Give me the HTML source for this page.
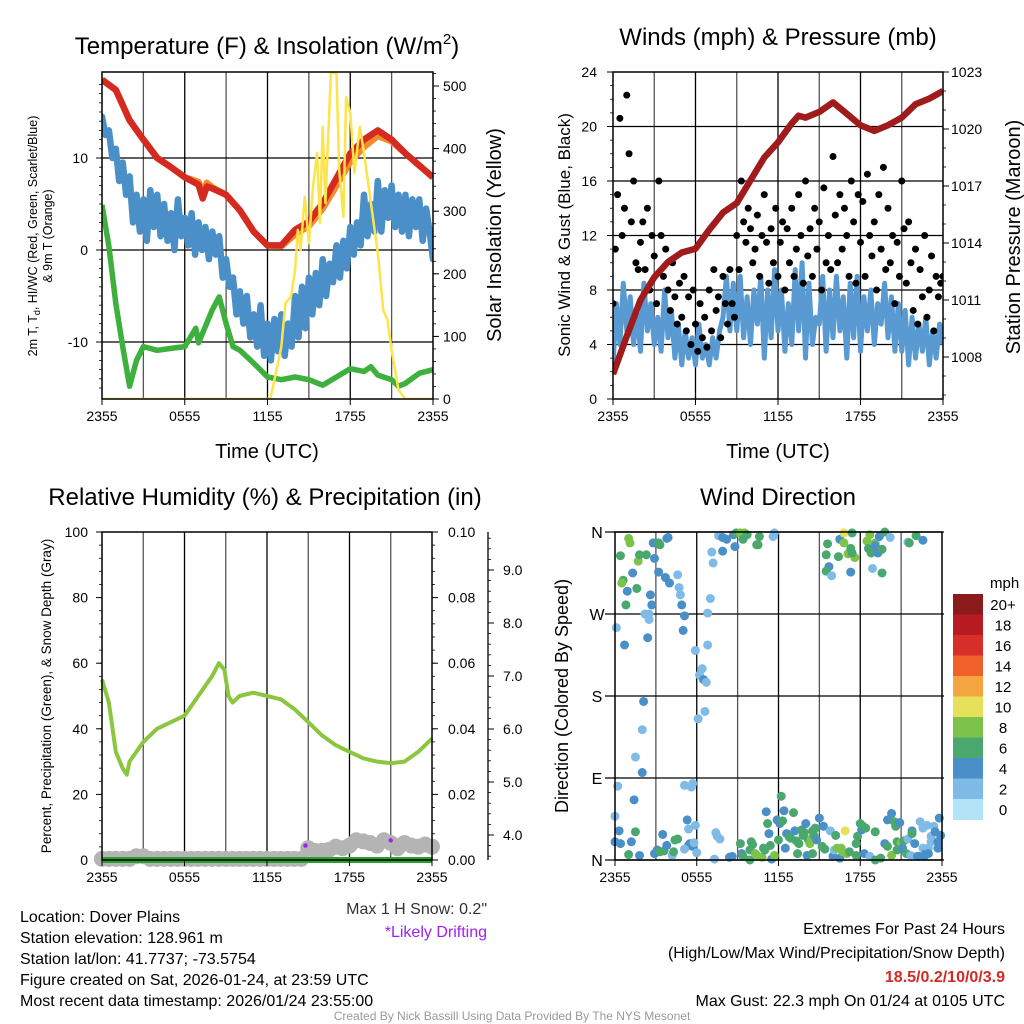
<!DOCTYPE html>
<html><head><meta charset="utf-8">
<style>
html,body{margin:0;padding:0;background:#fff;}
svg{display:block;font-family:"Liberation Sans",Arial,sans-serif;}
</style></head>
<body>
<svg id="chart" width="1024" height="1024" viewBox="0 0 1024 1024" xmlns="http://www.w3.org/2000/svg">
<rect width="1024" height="1024" fill="#fff"/>
<g id="p1"></g>
<g id="p2"></g>
<g id="p3"></g>
<g id="p4"></g>

<text x="267" y="54" font-size="24" text-anchor="middle">Temperature (F) &amp; Insolation (W/m<tspan font-size="15" dy="-10">2</tspan><tspan dy="10">)</tspan></text>
<text x="778" y="45" font-size="24" text-anchor="middle">Winds (mph) &amp; Pressure (mb)</text>
<text x="265" y="505" font-size="24" text-anchor="middle">Relative Humidity (%) &amp; Precipitation (in)</text>
<text x="778" y="505" font-size="24" text-anchor="middle">Wind Direction</text>

<text transform="translate(37,236) rotate(-90)" font-size="12.5" text-anchor="middle">2m T, T<tspan font-size="9" dy="3">d</tspan><tspan dy="-3">, HI/WC (Red, Green, Scarlet/Blue)</tspan></text>
<text transform="translate(52,236) rotate(-90)" font-size="12.5" text-anchor="middle">&amp; 9m T (Orange)</text>
<text transform="translate(501,235) rotate(-90)" font-size="20" text-anchor="middle">Solar Insolation (Yellow)</text>
<text x="267" y="458" font-size="20" text-anchor="middle">Time (UTC)</text>
<text transform="translate(570,235) rotate(-90)" font-size="17" text-anchor="middle">Sonic Wind &amp; Gust (Blue, Black)</text>
<text transform="translate(1020,237) rotate(-90)" font-size="20" text-anchor="middle">Station Pressure (Maroon)</text>
<text x="778" y="458" font-size="20" text-anchor="middle">Time (UTC)</text>
<text transform="translate(51,696) rotate(-90)" font-size="13.5" text-anchor="middle">Percent, Precipitation (Green), &amp; Snow Depth (Gray)</text>
<text transform="translate(568,696) rotate(-90)" font-size="18" text-anchor="middle">Direction (Colored By Speed)</text>

<text x="487" y="914" font-size="16" text-anchor="end" fill="#333">Max 1 H Snow: 0.2"</text>
<text x="487" y="937" font-size="16" text-anchor="end" fill="#a020f0">*Likely Drifting</text>

<g font-size="16">
<text x="20" y="922">Location: Dover Plains</text>
<text x="20" y="943">Station elevation: 128.961 m</text>
<text x="20" y="964">Station lat/lon: 41.7737; -73.5754</text>
<text x="20" y="985">Figure created on Sat, 2026-01-24, at 23:59 UTC</text>
<text x="20" y="1006">Most recent data timestamp: 2026/01/24 23:55:00</text>
</g>
<g font-size="16" text-anchor="end">
<text x="1005" y="934">Extremes For Past 24 Hours</text>
<text x="1005" y="958">(High/Low/Max Wind/Precipitation/Snow Depth)</text>
<text x="1005" y="982" fill="#d42a22" font-weight="bold">18.5/0.2/10/0/3.9</text>
<text x="1005" y="1006">Max Gust: 22.3 mph On 01/24 at 0105 UTC</text>
</g>
<text x="512" y="1020" font-size="12" fill="#999" text-anchor="middle">Created By Nick Bassill Using Data Provided By The NYS Mesonet</text>
</svg>

<script>
// ---------- Panel 1 data ----------
const tempHours = [0,1,2,3,4,5,6,7,7.3,7.6,8,9,10,11,12,13,14,15,16,17,18,19,20,21,22,23,24];
const tempValues = [18.5,17.4,14.1,12.0,10.0,9.0,7.9,7.1,5.6,6.9,6.7,6.0,4.3,2.0,0.5,0.5,2.2,3.1,5.1,7.8,10.5,12.0,13.0,12.0,10.5,9.2,7.9];
const temp9mValues = [18.5,17.4,14.1,12.0,10.0,9.0,7.9,7.4,6.2,7.3,6.8,6.0,4.3,2.0,0.5,0.4,1.7,2.6,4.5,7.0,9.6,11.2,12.4,11.8,10.5,9.2,7.9];
const dewHours = [0,0.5,1,1.5,2,2.5,3,4,5,6,6.8,7,8,8.5,9,9.5,10,11,12,13,14,15,16,17,18,19,19.5,20,21,21.5,22,23,24];
const dewValues = [4.9,0.4,-5.8,-10.5,-14.8,-12.0,-10.5,-10.9,-10.7,-10.5,-8.5,-10.1,-6.5,-5.1,-8.0,-10.5,-10.9,-12.3,-13.8,-14.1,-13.8,-14.1,-14.7,-13.8,-12.9,-13.2,-12.7,-13.6,-14.1,-14.8,-14.5,-13.4,-13.0];
const chillValues = [14.5,12.5,13.0,10.0, 11.0,7.5,9.5,6.0, 8.0,3.0,6.0,2.0, 5.5,1.0,6.5,2.5, 6.0,1.5,5.0,1.0, 4.0,0.0,5.5,1.5, 3.5,0.5,4.0,-0.5, 3.0,0.0,2.5,-1.0, 2.0,-0.5,1.5,-3.0, -1.0,-4.0,-3.0,-7.0, -4.5,-8.0,-5.0,-9.5, -7.0,-10.5,-6.0,-11.5, -8.0,-12.0,-7.5,-11.0, -7.0,-11.5,-8.0,-10.5, -5.0,-9.5,-4.0,-8.5, -3.0,-7.0,-2.5,-6.0, -1.0,-5.0,-1.5,-3.5, 0.5,-3.0,1.0,-2.0, 2.5,-0.5,3.0,0.5, 6.0,1.5,5.0,2.0, 7.5,2.0,6.5,3.5, 7.0,2.5,6.0,2.0, 6.0,1.5,5.5,2.5, 5.5,1.0,4.5,2.0, -1.0];
const solarHours = [0,12.2,12.5,13,13.3,13.7,14,14.2,14.4,14.7,15,15.3,15.6,15.8,16,16.2,16.4,16.6,17,17.2,17.5,17.7,18,18.3,18.7,19,19.5,20,20.4,20.7,21,21.5,22,24];
const solarValues = [0,0,30,83,153,163,206,270,238,323,249,339,393,281,435,313,419,521,521,366,291,482,457,361,435,393,313,233,142,126,78,14,0,0];
const tempTicks = [-10,0,10];
const solarTicks = [0,100,200,300,400,500];
const timeTickHours = [0,6,12,18,24];
const timeTickLabels = ["2355","0555","1155","1755","2355"];
// ---------- Panel 2 data ----------
const windValues = [2.5,7,4,8.5, 5,7.5,4,6.5, 3.5,8.5,5,7, 4,6,3.5,8, 4.5,6.5,3,5.5, 2.5,5,3,4.5, 2.5,5.5,3,4, 2.5,4.5,3,5, 6,9,5,8.5, 5,9,4.5,7.5, 4,8,5.5,9, 3,8,4.5,9.5, 5,8,3.5,7, 4,9.5,5,10, 3,8.5,4,6, 5.5,9,3.5,8, 4.5,9,5,7.5, 3,8.5,4.5,9, 3.5,7.5,5,8, 4,7,5.5,8.5, 4.5,7.5,3.5,7, 3.5,6.5,2.5,6, 3,5.5,3.5,6, 2.5,5,3,5.5, 4];
const gustValues = [7,11,15,20.6,12,14, 22.3,18,13,16,10,9.5, 11.5,13,9.5,14,8,12, 10.5,7,16,12,9,11, 8,6.5,10,7.5,5.5,8.5, 6,9,5,7.5,4,8, 5.5,3.5,7,4.5,6,3.8, 8,5,9.5,6.5,7.5,4.5, 9,7,5.5,9.5,7,6, 12,9.5,16,13,11.5,14, 12.5,10,11,13.5,9,12, 15,11.5,8.5,12.5,10,14, 9,11.5,13,8,12.5,10, 14,9,11,15,12,8.5, 16,10.5,12.5,9,14,11, 13,8,15.5,10,12,9.5, 17.8,13.5,10,15,11,14, 12,9,16,13,8.5,15, 11.5,14.5,9,16.5,12,10.5, 13,8,15,11,17,9.5, 14,10,12,7,11.5,9, 16,12.5,8.5,13,10,6.5, 11,5.5,9.5,7.5,12,6, 8,10.5,5,9,7.5,8.5,9];
const pressHours = [0,1,2,3,4,5,6,7,8,9,10,11,12,13,13.5,14,15,16,17,18,19,20,21,22,23,24];
const pressValues = [1007.1,1009.1,1011.0,1012.2,1013.0,1013.5,1013.7,1014.7,1015.6,1016.1,1017.3,1018.5,1019.3,1020.3,1020.7,1020.6,1020.9,1021.4,1020.8,1020.2,1019.9,1020.2,1020.6,1021.3,1021.6,1022.0];
const windTicks = [0,4,8,12,16,20,24];
const pressTicks = [1008,1011,1014,1017,1020,1023];
// ---------- Panel 3 data ----------
const rhHours = [0,0.5,1,1.5,1.8,2,3,4,5,6,7,7.5,8,8.5,8.9,9.2,9.5,10,11,12,13,14,15,16,17,18,19,20,21,22,23,24];
const rhValues = [55,48,33,28,26,30,36,40,42,44,50,53,56,60,58,50,48,50,51,50,49,46,42,38,35,33,31,30,29.5,30,33,37];
const snowDepthValues = [3.55,3.55,3.55,3.55,3.55,3.6,3.6,3.55,3.55,3.55,3.55,3.55,3.55,3.55,3.55,3.55,3.55,3.55,3.55,3.55,3.55,3.55,3.55,3.55,3.55,3.55,3.55,3.55,3.55,3.55,3.75,3.7,3.7,3.72,3.78,3.75,3.8,3.9,3.88,3.85,3.8,3.9,3.85,3.75,3.85,3.8,3.78,3.82,3.78];
const driftHours = [14.8,21.0];
const driftDepths = [3.8,3.9];
const precipHours = [0,24];
const precipValues = [0,0];
const rhTicks = [0,20,40,60,80,100];
const precipTickLabels = ["0.00","0.02","0.04","0.06","0.08","0.10"];
const snowTicks = [4,5,6,7,8,9];
// ---------- Panel 4 data ----------
const dirHours = [1.0,1.1,0.4,1.7,1.8,2.3,2.8,3.2,3.3,3.8, 3.9,2.9,1.3,3.2,3.7,4.0,4.6,0.6,0.5,0.9, 1.6,2.6,4.7,4.8,0.8,2.7,2.2,2.5,2.5,4.9, 5.1,6.8,7.0,0.1,0.7,2.4,5.0,5.9,6.8,6.4, 6.2,6.5,6.7,6.6,6.1,2.1,2.0,1.5,2.0,0.2, 1.4,5.1,5.6,5.7,
7.1,7.2,7.6,7.9,8.2,7.9,8.7,8.8,8.9,9.2, 9.5,9.4,9.7,10.4,10.6,10.5,11.7,11.6,
15.6,15.5,16.4,15.7,15.5,15.9,16.5,16.8,16.8,17.1, 17.3,17.4,17.6,17.3,17.4,18.5,18.7,18.6,18.8,19.1, 19.1,19.3,19.4,19.6,19.8,20.2,18.9,19.6,21.5,21.6, 22.1,22.6,
0.0,0.3,0.0,0.4,1.0,1.2,1.5,1.8,2.9,3.1, 3.3,3.5,3.6,3.8,4.2,4.3,4.4,4.6,5.3,5.4, 5.4,5.5,5.7,5.9,5.8,6.0,5.1,7.3,7.4,7.5, 7.7,8.4,8.6,9.2,9.3,9.4,9.9,10.0,10.1,9.9, 10.3,10.5,10.8,10.9,11.0,11.1,11.2,11.3,11.4,11.5, 11.7,11.9,12.1,12.0,12.2,12.4,12.3,12.5,12.6,12.8, 12.9,13.1,13.2,13.3,13.4,13.5,13.7,13.8,13.9,14.0, 14.1,14.2,14.3,14.4,14.5,14.5,14.7,14.6,14.8,15.0, 15.2,15.3,15.4,15.8,16.0,16.1,16.2,16.3,16.5,16.6, 16.7,16.9,17.0,17.2,17.7,17.7,17.8,18.0,18.1,18.2, 18.3,18.4,18.7,19.1,19.1,19.5,19.8,20.0,20.0,20.3, 20.3,20.5,20.6,20.7,20.7,20.9,21.0,21.1,21.2,21.4, 21.5,21.7,21.8,21.8,22.0,22.2,22.3,22.4,22.6,22.6, 22.7,22.8,22.9,23.0,23.0,23.2,23.2,23.4,23.5,23.7, 23.7,23.8,23.9];
const dirDegrees = [353,348,334,328,335,335,348,348,346,353, 354,331,315,316,310,304,313,307,304,295, 298,291,299,291,280,280,270,270,264,280, 268,271,287,255,236,244,252,230,236,210, 203,198,195,163,155,174,143,113,96,81, 66,82,80,84,
338,326,356,354,352,339,357,344,359,359, 359,352,357,346,355,346,359,355,
347,335,333,322,317,312,352,348,359,336, 342,359,332,316,337,350,357,342,337,348, 345,337,355,341,360,354,320,315,349,348, 356,351,
48,32,20,18,6,20,31,5,7,11, 9,28,10,16,5,9,22,23,44,34, 16,18,15,38,19,8,12,1,30,26, 23,3,4,18,7,4,0,20,17,11, 7,4,3,13,11,53,40,29,16,1, 5,44,40,22,70,54,43,13,29,25, 24,52,32,21,7,18,33,27,30,40, 5,22,18,23,7,32,35,27,22,46, 15,37,12,32,4,11,27,13,2,13, 9,32,7,9,5,18,26,40,33,37, 7,35,4,31,0,2,18,15,44,5, 51,42,37,11,20,41,19,13,21,7, 23,5,32,29,18,4,4,42,35,13, 4,7,38,13,7,20,26,37,31,20, 13,46,27];
const dirSpeeds = [9,9,7,9,7,7,5,7,7,5, 5,5,5,5,5,5,3,7,9,5, 7,5,3,3,7,5,3,3,3,5, 5,3,3,3,5,5,5,3,3,3, 3,5,3,3,3,5,3,3,5,3, 5,3,3,3,
3,3,3,5,5,5,5,5,7,9, 9,7,7,7,7,7,3,3,
7,7,7,5,7,3,5,9,11,9, 7,7,9,5,7,9,9,7,7,9, 5,5,5,7,7,3,3,7,3,7, 7,5,
3,5,5,5,7,5,7,5,5,5, 7,5,7,5,3,7,7,7,5,3, 5,5,5,3,3,3,3,3,3,3, 3,5,5,7,5,7,7,7,7,7, 9,9,9,7,7,5,7,5,7,5, 9,5,5,7,7,5,7,5,5,7, 7,7,5,7,7,7,7,7,7,5, 5,7,9,9,7,7,7,7,5,5, 7,5,7,3,5,3,7,9,5,9, 9,11,9,7,7,7,7,7,5,7, 5,7,3,7,7,7,5,7,5,9, 5,7,7,7,7,5,9,5,7,7, 3,3,5,7,5,5,5,3,3,3, 5,5,3,3,5,3,3,3,5,5, 5,5,5];
const dirTickDegrees = [0,90,180,270,360];
const dirTickLabels = ["N","E","S","W","N"];
const speedBinLabels = ["0","2","4","6","8","10","12","14","16","18","20+"];
const speedBinColors = ["#b3e3f7","#7fbbe6","#4a8fc8","#4aa86e","#7dc24a","#e6e05a","#f5a442","#f0602a","#d7302a","#b81c22","#8b1a1a"];

const NS = "http://www.w3.org/2000/svg";
function mk(parent, tag, attrs){const e=document.createElementNS(NS,tag);for(const k in attrs)e.setAttribute(k,attrs[k]);parent.appendChild(e);return e;}
function lin(d0,d1,r0,r1){return v=>r0+(v-d0)/(d1-d0)*(r1-r0);}
function pathFrom(xs,ys,fx,fy){return xs.map((x,i)=>(i?"L":"M")+fx(x).toFixed(1)+","+fy(ys[i]).toFixed(1)).join("");}
function quarterHours(n){const a=[];for(let i=0;i<n;i++)a.push(i*0.25);return a;}

function frame(g,L,T,R,B,xs){
  for(let h=3;h<24;h+=3){
    const x=xs(h);
    const ln=mk(g,"line",{x1:x,y1:T,x2:x,y2:B,stroke:h%6===0?"#000":"#555","stroke-width":1.3});
    
    
  }
}
function border(g,L,T,R,B,xs){
  const r=mk(g,"rect",{x:L,y:T,width:R-L,height:B-T,fill:"none",stroke:"#000","stroke-width":1.5});
  
  
  timeTickHours.forEach((h,i)=>{
    const t=mk(g,"text",{x:xs(h),y:B+22,"font-size":14,"text-anchor":"middle"});
    
    
    t.textContent=timeTickLabels[i];
    mk(g,"line",{x1:xs(h),y1:B,x2:xs(h),y2:B+6,stroke:"#000"});
  });
}

// ---------------- Panel 1 ----------------
(function(){
  const g=document.getElementById("p1");
  const L=102,T=72,R=433,B=399;
  const xs=lin(0,24,L,R), ty=lin(-10,10,342,158), sy=lin(0,500,399,86);
  frame(g,L,T,R,B,xs);
  tempTicks.forEach(v=>{
    const l=mk(g,"line",{x1:L,x2:R,y1:ty(v),y2:ty(v),stroke:"#000","stroke-width":1.3});
    
    
    const t=mk(g,"text",{x:L-14,y:ty(v)+5,"font-size":14,"text-anchor":"end"});
    
    
    t.textContent=v;
    mk(g,"line",{x1:L-6,x2:L,y1:ty(v),y2:ty(v),stroke:"#000"});
  });
  for(let v=-15;v<=18;v+=1){mk(g,"line",{x1:L-3,x2:L,y1:ty(v),y2:ty(v),stroke:"#000","stroke-width":0.8});}
  solarTicks.forEach(v=>{
    const t=mk(g,"text",{x:R+10,y:sy(v)+5,"font-size":14});
    
    
    t.textContent=v;
    mk(g,"line",{x1:R,x2:R+6,y1:sy(v),y2:sy(v),stroke:"#000"});
  });
  for(let v=0;v<=520;v+=20){mk(g,"line",{x1:R,x2:R+3,y1:sy(v),y2:sy(v),stroke:"#000","stroke-width":0.8});}
  const clip=mk(g,"clipPath",{id:"c1"});mk(clip,"rect",{x:L,y:T,width:R-L,height:B-T});
  const pg=mk(g,"g",{"clip-path":"url(#c1)"});
  const chill=mk(pg,"path",{d:pathFrom(quarterHours(chillValues.length),chillValues,xs,ty),fill:"none",stroke:"#4a8fc8","stroke-width":6.5,"stroke-linejoin":"round","stroke-linecap":"round"});
  
  
  const dew=mk(pg,"path",{d:pathFrom(dewHours,dewValues,xs,ty),fill:"none",stroke:"#3db03d","stroke-width":5.5,"stroke-linejoin":"round"});
  
  
  const t9=mk(pg,"path",{d:pathFrom(tempHours,temp9mValues,xs,ty),fill:"none",stroke:"#f58a2a","stroke-width":6.5,"stroke-linejoin":"round"});
  
  
  const t2=mk(pg,"path",{d:pathFrom(tempHours,tempValues,xs,ty),fill:"none",stroke:"#d42a22","stroke-width":6.5,"stroke-linejoin":"round"});
  
  
  const sol=mk(pg,"path",{d:pathFrom(solarHours,solarValues,xs,sy),fill:"none",stroke:"#fde44a","stroke-width":2.5,"stroke-linejoin":"round"});
  
  
  border(g,L,T,R,B,xs);
})();

// ---------------- Panel 2 ----------------
(function(){
  const g=document.getElementById("p2");
  const L=613,T=72,R=943,B=399;
  const xs=lin(0,24,L,R), wy=lin(0,24,B,T), py=lin(1008,1023,357,72);
  frame(g,L,T,R,B,xs);
  windTicks.forEach(v=>{
    if(v>0&&v<24){const l=mk(g,"line",{x1:L,x2:R,y1:wy(v),y2:wy(v),stroke:"#000","stroke-width":1.3});
    
    }
    const t=mk(g,"text",{x:L-16,y:wy(v)+5,"font-size":14,"text-anchor":"end"});
    
    
    t.textContent=v;
    mk(g,"line",{x1:L-6,x2:L,y1:wy(v),y2:wy(v),stroke:"#000"});
  });
  for(let v=0;v<=24;v+=1){mk(g,"line",{x1:L-3,x2:L,y1:wy(v),y2:wy(v),stroke:"#000","stroke-width":0.8});}
  pressTicks.forEach(v=>{
    const t=mk(g,"text",{x:R+8,y:py(v)+5,"font-size":14});
    
    
    t.textContent=v;
    mk(g,"line",{x1:R,x2:R+6,y1:py(v),y2:py(v),stroke:"#000"});
  });
  for(let v=1006;v<=1023;v+=1){mk(g,"line",{x1:R,x2:R+3,y1:py(v),y2:py(v),stroke:"#000","stroke-width":0.8});}
  const clip=mk(g,"clipPath",{id:"c2"});mk(clip,"rect",{x:L,y:T,width:R-L,height:B-T});
  const pg=mk(g,"g",{"clip-path":"url(#c2)"});
  const w=mk(pg,"path",{d:pathFrom(quarterHours(windValues.length),windValues,xs,wy),fill:"none",stroke:"#5a9ad2","stroke-width":5,"stroke-linejoin":"round"});
  
  
  const gustHours=gustValues.map((v,i)=>i/6);
  gustValues.forEach((v,i)=>{
    const c=mk(pg,"circle",{cx:xs(gustHours[i]),cy:wy(v),r:3.5,fill:"#000"});
    
    
  });
  const p=mk(pg,"path",{d:pathFrom(pressHours,pressValues,xs,py),fill:"none",stroke:"#a01b1b","stroke-width":6.5,"stroke-linejoin":"round"});
  
  
  border(g,L,T,R,B,xs);
})();

// ---------------- Panel 3 ----------------
(function(){
  const g=document.getElementById("p3");
  const L=102,T=532,R=432,B=860;
  const xs=lin(0,24,L,R), ry=lin(0,100,B,T), dy=lin(4,9,835,570);
  frame(g,L,T,R,B,xs);
  rhTicks.forEach((v,i)=>{
    const t=mk(g,"text",{x:L-14,y:ry(v)+5,"font-size":14,"text-anchor":"end"});
    
    
    t.textContent=v;
    mk(g,"line",{x1:L-6,x2:L,y1:ry(v),y2:ry(v),stroke:"#000"});
    const t2=mk(g,"text",{x:R+16,y:ry(v)+5,"font-size":14});
    
    
    t2.textContent=precipTickLabels[i];
    mk(g,"line",{x1:R,x2:R+6,y1:ry(v),y2:ry(v),stroke:"#000"});
  });
  for(let v=0;v<=100;v+=4){mk(g,"line",{x1:L-3,x2:L,y1:ry(v),y2:ry(v),stroke:"#000","stroke-width":0.8});mk(g,"line",{x1:R,x2:R+3,y1:ry(v),y2:ry(v),stroke:"#000","stroke-width":0.8});}
  const ax=mk(g,"line",{x1:488,x2:488,y1:T,y2:B,stroke:"#000","stroke-width":1.3});
  
  
  snowTicks.forEach(v=>{
    const t=mk(g,"text",{x:503,y:dy(v)+5,"font-size":14});
    
    
    t.textContent=v.toFixed(1);
    mk(g,"line",{x1:488,x2:494,y1:dy(v),y2:dy(v),stroke:"#000"});
  });
  for(let v=3.6;v<=9.6;v+=0.2){mk(g,"line",{x1:488,x2:491,y1:dy(v),y2:dy(v),stroke:"#000","stroke-width":0.8});}
  const sh=snowDepthValues.map((v,i)=>i*0.5);
  snowDepthValues.forEach((v,i)=>{
    const c=mk(g,"circle",{cx:xs(sh[i]),cy:Math.min(dy(v),B),r:8,fill:"#b4b4b4"});
    
    
  });
  const rh=mk(g,"path",{d:pathFrom(rhHours,rhValues,xs,ry),fill:"none",stroke:"#8cc63f","stroke-width":4,"stroke-linejoin":"round"});
  
  
  const pr=mk(g,"path",{d:pathFrom(precipHours,precipValues.map(v=>v*1000),xs,ry),fill:"none",stroke:"#2e9e2e","stroke-width":6});
  
  
  driftHours.forEach((h,i)=>{
    const c=mk(g,"circle",{cx:xs(h),cy:dy(driftDepths[i]),r:2.2,fill:"#a020f0"});
    
    
  });
  border(g,L,T,R,B,xs);
})();

// ---------------- Panel 4 ----------------
(function(){
  const g=document.getElementById("p4");
  const L=615,T=532,R=942,B=860;
  const xs=lin(0,24,L,R), dyy=lin(0,360,B,T);
  frame(g,L,T,R,B,xs);
  dirTickDegrees.forEach((v,i)=>{
    const l=mk(g,"line",{x1:L-10,x2:R+2,y1:dyy(v),y2:dyy(v),stroke:"#000","stroke-width":1.3});
    
    
    const t=mk(g,"text",{x:L-18,y:dyy(v)+6,"font-size":16,"text-anchor":"middle"});
    
    
    t.textContent=dirTickLabels[i];
  });
  dirHours.forEach((h,i)=>{
    const bin=Math.min(10,Math.floor(dirSpeeds[i]/2));
    const c=mk(g,"circle",{cx:xs(h),cy:dyy(dirDegrees[i]),r:4.5,fill:speedBinColors[bin]});
    
    
  });
  border(g,L,T,R,B,xs);
  const mph=mk(g,"text",{x:990,y:588,"font-size":15});
  
  
  mph.textContent="mph";
  const top=594,h=20.5;
  speedBinColors.slice().reverse().forEach((col,k)=>{
    const r=mk(g,"rect",{x:953,y:top+k*h,width:30,height:h+0.5,fill:col});
    
    
    const t=mk(g,"text",{x:1003,y:top+k*h+16,"font-size":15,"text-anchor":"middle"});
    
    
    t.textContent=speedBinLabels[10-k];
  });
})();
</script>
</body></html>
